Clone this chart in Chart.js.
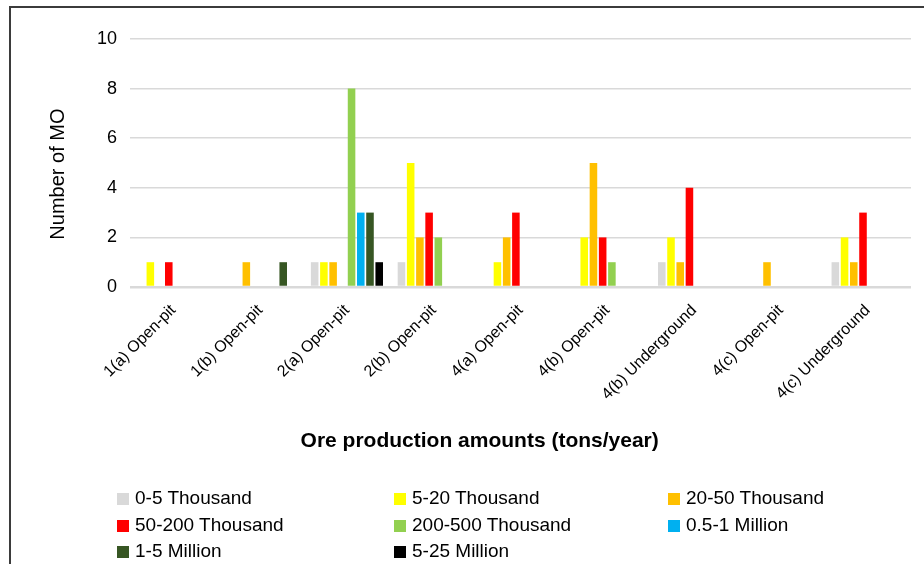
<!DOCTYPE html>
<html>
<head>
<meta charset="utf-8">
<script src="https://cdn.jsdelivr.net/npm/chart.js@4"></script>
<style>
  html, body { margin: 0; padding: 0; background: #fff; overflow: hidden; }
  #wrap { position: relative; width: 924px; height: 564px; }
  #frame { position: absolute; left: 9px; top: 6px; width: 1000px; height: 1000px;
           border-left: 2px solid #3b3b3b; border-top: 2px solid #3b3b3b; }
  canvas { position: absolute; left: 0; top: 0; }
  .item { position: absolute; font: 19px "Liberation Sans", Arial, sans-serif; color: #000;
          line-height: 22px; white-space: nowrap; }
  .item span { display: inline-block; width: 12px; height: 12px; margin-right: 6px; vertical-align: -1px; }
</style>
</head>
<body>
<div id="wrap">
  <div id="frame"></div>
  <canvas id="canvas" width="924" height="564"></canvas>
  <div id="legend"></div>
</div>
<script>
const categories = ['1(a) Open-pit', '1(b) Open-pit', '2(a) Open-pit', '2(b) Open-pit', '4(a) Open-pit',
  '4(b) Open-pit', '4(b) Underground', '4(c) Open-pit', '4(c) Underground']

const seriesNames = ['0-5 Thousand', '5-20 Thousand', '20-50 Thousand', '50-200 Thousand',
  '200-500 Thousand', '0.5-1 Million', '1-5 Million', '5-25 Million']
const seriesColors = ['#d9d9d9', '#ffff00', '#ffc000', '#ff0000', '#92d050', '#00b0f0', '#375623', '#000000']

const thous0to5 = [0, 0, 1, 1, 0, 0, 1, 0, 1]
const thous5to20 = [1, 0, 1, 5, 1, 2, 2, 0, 2]
const thous20to50 = [0, 1, 1, 2, 2, 5, 1, 1, 1]
const thous50to200 = [1, 0, 0, 3, 3, 2, 4, 0, 3]
const thous200to500 = [0, 0, 8, 2, 0, 1, 0, 0, 0]
const mil05to1 = [0, 0, 3, 0, 0, 0, 0, 0, 0]
const mil1to5 = [0, 1, 3, 0, 0, 0, 0, 0, 0]
const mil5to25 = [0, 0, 1, 0, 0, 0, 0, 0, 0]

const yTicks = [0, 2, 4, 6, 8, 10]

const seriesValues = [thous0to5, thous5to20, thous20to50, thous50to200, thous200to500, mil05to1, mil1to5, mil5to25]

const datasets = seriesNames.map((name, i) => ({
  label: name,
  data: seriesValues[i],
  backgroundColor: seriesColors[i],
  borderWidth: 0,
  categoryPercentage: 0.85,
  barPercentage: 0.82,
}))

const font = 'Liberation Sans, Arial, sans-serif'
const nbsp = (n) => '\u00a0'.repeat(n) // titles sit a bit off-centre in the original

const config = {
  type: 'bar',
  data: { labels: categories, datasets: datasets },
  options: {
    responsive: false,
    animation: false,
    layout: { padding: { left: 46, top: 39, right: 13, bottom: 110 } },
    plugins: { legend: { display: false }, tooltip: { enabled: false } },
    scales: {
      x: {
        grid: { display: false },
        border: { display: false },
        ticks: {
          color: '#000', font: { family: font, size: 16 },
          minRotation: 45, maxRotation: 45, autoSkip: false, padding: 6,
        },
        title: {
          display: true, text: 'Ore production amounts (tons/year)' + nbsp(14), color: '#000',
          font: { family: font, size: 21, weight: 'bold' }, padding: 0,
        },
        afterFit: (scale) => { scale.height = 167 },
      },
      y: {
        min: 0, max: 10,
        afterBuildTicks: (scale) => { scale.ticks = yTicks.map(v => ({ value: v })) },
        grid: {
          color: '#d9d9d9',
          lineWidth: (ctx) => (ctx.tick && ctx.tick.value === 0 ? 2.5 : 1.5),
          drawTicks: false,
        },
        border: { display: false },
        ticks: { color: '#000', font: { family: font, size: 18 }, padding: 13 },
        title: {
          display: true, text: 'Number of MO' + nbsp(4), color: '#000',
          font: { family: font, size: 20 }, padding: 0,
        },
        afterFit: (scale) => { scale.width = 84 },
      },
    },
  },
}

const canvas = document.getElementById('canvas')
const chart = new Chart(canvas, config)

// legend laid out in three columns like the original
const legend = document.getElementById('legend')
const colX = [117, 394, 668]
const rowY = [487, 514, 540]
seriesNames.forEach((name, i) => {
  const div = document.createElement('div')
  div.className = 'item'
  div.style.left = colX[i % 3] + 'px'
  div.style.top = rowY[Math.floor(i / 3)] + 'px'
  div.innerHTML = '<span style="background:' + seriesColors[i] + '"></span>' + name
  legend.appendChild(div)
})
</script>
</body>
</html>
